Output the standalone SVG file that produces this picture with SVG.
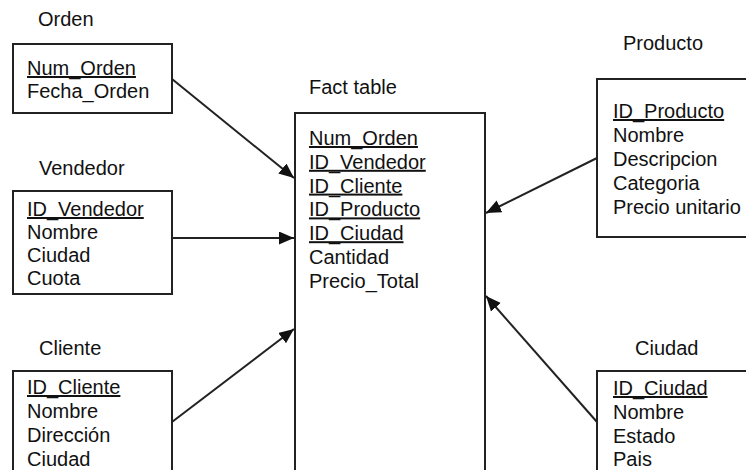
<svg xmlns="http://www.w3.org/2000/svg" width="746" height="470" viewBox="0 0 746 470">
<style>
text{font-family:"Liberation Sans",Arial,sans-serif;font-size:20px;fill:#111}
.box{fill:#fff;stroke:#222;stroke-width:2}
.k{text-decoration:underline}
.c{stroke:#222;stroke-width:2;fill:none}
</style>
<defs>
<marker id="ah" markerUnits="userSpaceOnUse" markerWidth="16" markerHeight="14" refX="15" refY="6.5" orient="auto">
<path d="M0,0 L15,6.5 L0,13 Z" fill="#111"/>
</marker>
</defs>
<rect width="746" height="470" fill="#fff"/>
<g id="orden">
<text x="38" y="26">Orden</text>
<rect class="box" x="13" y="44" width="159" height="69"/>
<text x="27" y="75" class="k">Num_Orden</text>
<text x="27" y="98">Fecha_Orden</text>
</g>
<g id="vendedor">
<text x="39" y="175">Vendedor</text>
<rect class="box" x="13" y="191" width="159" height="103"/>
<text x="27" y="216" class="k">ID_Vendedor</text>
<text x="27" y="239">Nombre</text>
<text x="27" y="262">Ciudad</text>
<text x="27" y="285">Cuota</text>
</g>
<g id="cliente">
<text x="39" y="355">Cliente</text>
<rect class="box" x="13" y="371" width="159" height="110"/>
<text x="27" y="394" class="k">ID_Cliente</text>
<text x="27" y="417.5">Nombre</text>
<text x="27" y="441.5">Dirección</text>
<text x="27" y="465.5">Ciudad</text>
</g>
<g id="fact">
<text x="309" y="94">Fact table</text>
<rect class="box" x="295" y="113" width="190" height="370"/>
<text x="309" y="145" class="k">Num_Orden</text>
<text x="309" y="168.8" class="k">ID_Vendedor</text>
<text x="309" y="192.6" class="k">ID_Cliente</text>
<text x="309" y="216.4" class="k">ID_Producto</text>
<text x="309" y="240.2" class="k">ID_Ciudad</text>
<text x="309" y="264">Cantidad</text>
<text x="309" y="287.8">Precio_Total</text>
</g>
<g id="producto">
<text x="623" y="50">Producto</text>
<rect class="box" x="597" y="79" width="160" height="158"/>
<text x="613" y="118" class="k">ID_Producto</text>
<text x="613" y="142">Nombre</text>
<text x="613" y="166">Descripcion</text>
<text x="613" y="189.5">Categoria</text>
<text x="613" y="213.5">Precio unitario</text>
</g>
<g id="ciudad">
<text x="635" y="355">Ciudad</text>
<rect class="box" x="597" y="371" width="160" height="110"/>
<text x="613" y="395" class="k">ID_Ciudad</text>
<text x="613" y="418.5">Nombre</text>
<text x="613" y="442.5">Estado</text>
<text x="613" y="466">Pais</text>
</g>
<g id="connectors">
<line class="c" x1="172" y1="79" x2="294" y2="178" marker-end="url(#ah)"/>
<line class="c" x1="172" y1="238" x2="294" y2="238" marker-end="url(#ah)"/>
<line class="c" x1="172" y1="422" x2="294" y2="329" marker-end="url(#ah)"/>
<line class="c" x1="597" y1="158" x2="486" y2="213" marker-end="url(#ah)"/>
<line class="c" x1="597" y1="422" x2="486" y2="296" marker-end="url(#ah)"/>
</g>
</svg>
